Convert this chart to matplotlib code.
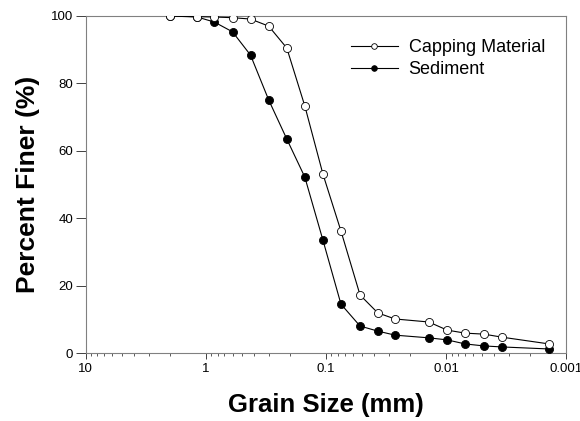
import numpy as np
import matplotlib.pyplot as plt
from matplotlib.ticker import LogLocator, NullFormatter, FixedLocator, FixedFormatter

plt.rcParams['font.family'] = ['Liberation Sans', 'DejaVu Sans']

# Grain size distribution (sieve + hydrometer)
grain_size = [2.0, 1.18, 0.85, 0.6, 0.425, 0.3, 0.212, 0.15, 0.106, 0.075,
              0.052, 0.037, 0.0266, 0.0139, 0.0098, 0.00695, 0.00483,
              0.00342, 0.00139]
capping = [100, 99.8, 99.7, 99.5, 99.1, 97.0, 90.5, 73.3, 53.1, 36.2,
           17.2, 11.9, 10.1, 9.2, 6.8, 5.9, 5.6, 4.7, 2.7]
sediment = [100, 99.7, 98.2, 95.3, 88.4, 75.1, 63.5, 52.2, 33.5, 14.5,
            8.0, 6.5, 5.3, 4.5, 3.9, 2.7, 2.1, 1.8, 1.2]

x_ticks = [10, 1, 0.1, 0.01, 0.001]
x_labels = ['10', '1', '0.1', '0.01', '0.001']
y_ticks = [0, 20, 40, 60, 80, 100]

fig = plt.figure(figsize=(5.8, 4.21), dpi=100)
ax = fig.add_axes([0.148, 0.1615, 0.828, 0.8005])

ax.plot(grain_size, sediment, '-o', color='black', lw=0.8, ms=5.8,
        mfc='black', mec='black', mew=0.6, label='Sediment', zorder=3)
ax.plot(grain_size, capping, '-o', color='black', lw=0.8, ms=5.8,
        mfc='white', mec='black', mew=0.6, label='Capping Material', zorder=4)

ax.set_xscale('log')
ax.set_xlim(10, 0.001)
ax.set_ylim(0, 100)

ax.xaxis.set_major_locator(FixedLocator(x_ticks))
ax.xaxis.set_major_formatter(FixedFormatter(x_labels))
ax.xaxis.set_minor_locator(LogLocator(base=10, subs=np.arange(2, 10)))
ax.xaxis.set_minor_formatter(NullFormatter())
ax.set_yticks(y_ticks)

for s in ax.spines.values():
    s.set_color('#808080')
    s.set_linewidth(0.8)

ax.tick_params(axis='x', which='major', direction='out', length=4, width=0.7,
               color='#404040', labelsize=9.5, pad=3, top=False)
ax.tick_params(axis='x', which='minor', direction='out', length=2.5, width=0.6,
               color='#404040', top=False)
ax.tick_params(axis='y', which='major', direction='out', length=7, width=0.7,
               color='#404040', labelsize=9.5, pad=2, right=False)

ax.set_xlabel('Grain Size (mm)', fontsize=18.5, fontweight='bold', labelpad=13)
ax.set_ylabel('Percent Finer (%)', fontsize=19, fontweight='bold', labelpad=8)

handles, labels = ax.get_legend_handles_labels()
ax.legend(handles[::-1], labels[::-1], loc='upper right', frameon=False,
          fontsize=13, markerscale=0.7, handlelength=2.6, handletextpad=0.6,
          labelspacing=0.3, bbox_to_anchor=(0.99, 0.98))

fig.savefig('out.png', dpi=100)
